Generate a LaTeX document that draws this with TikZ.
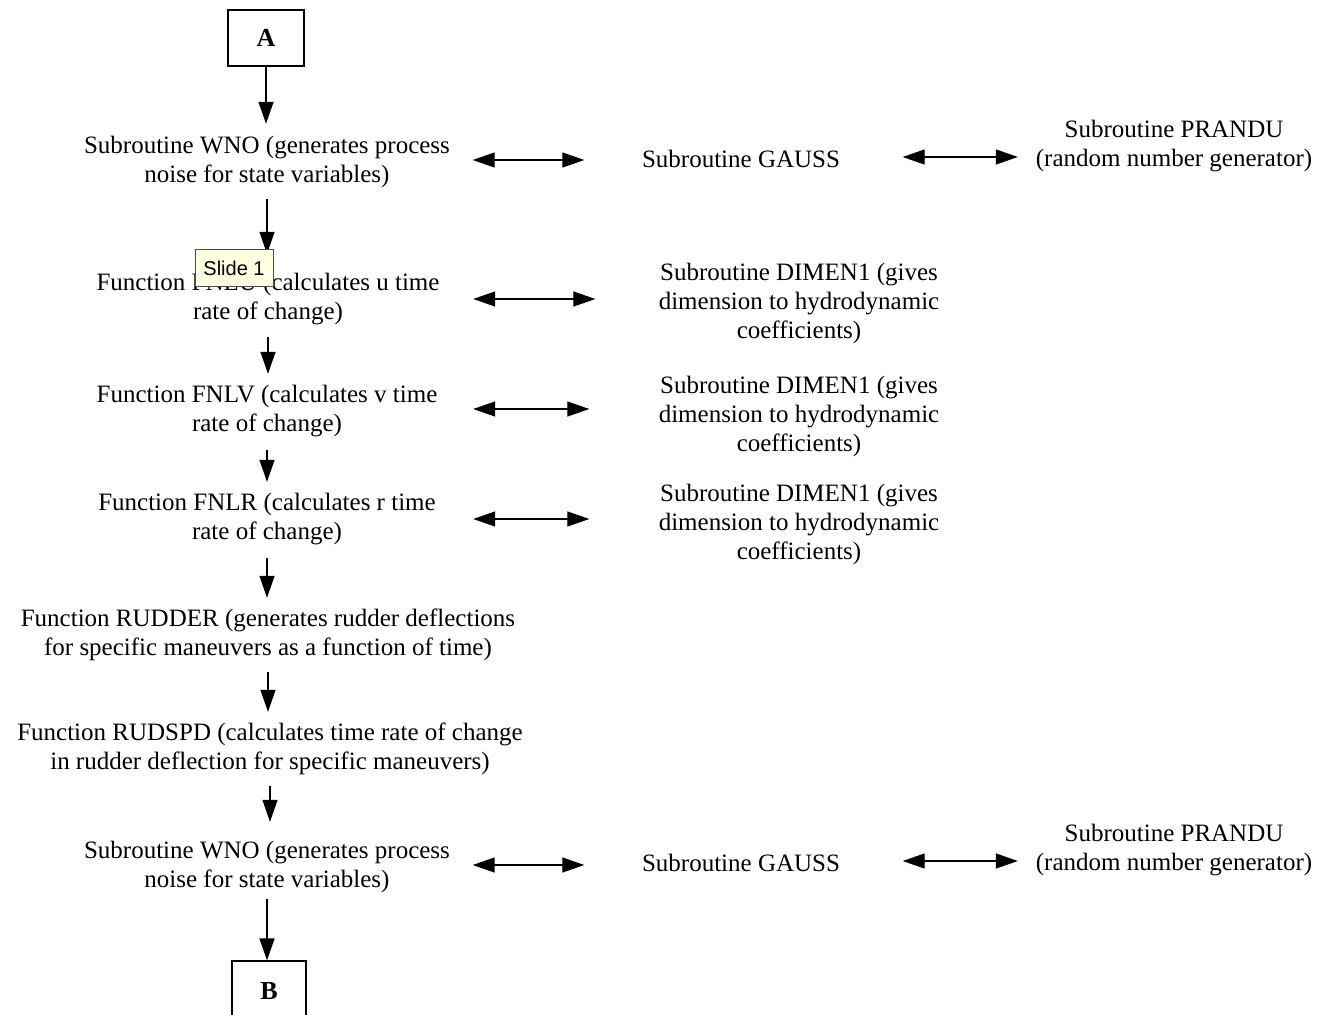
\documentclass[tikz,border=0pt]{standalone}
\usepackage{fontspec}
\setmainfont{Liberation Serif}
\newfontfamily\tipfont{Liberation Sans}
\usetikzlibrary{arrows.meta}
\definecolor{tipfill}{HTML}{FFFFE1}
\begin{document}
\begin{tikzpicture}[x=1pt,y=-1pt,
  txt/.style={font=\fontsize{25}{29}\selectfont, align=center, inner sep=0pt, minimum height=58pt},
  txtthree/.style={txt, minimum height=87pt},
  term/.style={draw, line width=1.2pt, font=\fontsize{26}{30}\selectfont\bfseries, inner sep=0pt},
  flow/.style={-{Triangle[length=22pt,width=15pt]}, line width=1.3pt},
  both/.style={{Triangle[length=22pt,width=15pt]}-{Triangle[length=22pt,width=15pt]}, line width=1.3pt},
  tipbox/.style={draw=black!70, fill=tipfill, line width=1pt, font=\tipfont\fontsize{20}{24}\selectfont, minimum width=78pt, minimum height=37pt, inner sep=0pt}]
\useasboundingbox (0,0) rectangle (1319,1014);

% terminals
\node[term, minimum width=76pt, minimum height=56pt] (A) at (266,38) {A};
\node[term, minimum width=74pt, minimum height=60pt] (B) at (269,991) {B};

% main column
\node[txt, minimum width=369pt] (wno1) at (267,162) {Subroutine WNO (generates process\\noise for state variables)};
\node[txt, minimum width=346pt] (fnlu) at (268,299) {Function FNLU (calculates u time\\rate of change)};
\node[txt, minimum width=344pt] (fnlv) at (267,411) {Function FNLV (calculates v time\\rate of change)};
\node[txt, minimum width=340pt] (fnlr) at (267,519) {Function FNLR (calculates r time\\rate of change)};
\node[txt, minimum width=500pt] (rudder) at (268,635) {Function RUDDER (generates rudder deflections\\for specific maneuvers as a function of time)};
\node[txt, minimum width=511pt] (rudspd) at (270,749) {Function RUDSPD (calculates time rate of change\\in rudder deflection for specific maneuvers)};
\node[txt, minimum width=369pt] (wno2) at (267,867) {Subroutine WNO (generates process\\noise for state variables)};

% side routines
\node[txt, minimum width=199pt, minimum height=30pt] (gauss1) at (741,159) {Subroutine GAUSS};
\node[txt, minimum width=278pt] (prandu1) at (1174,146) {Subroutine PRANDU\\(random number generator)};
\node[txtthree, minimum width=283pt] (dimen1) at (799,303) {Subroutine DIMEN1 (gives\\dimension to hydrodynamic\\coefficients)};
\node[txtthree, minimum width=283pt] (dimen2) at (799,416) {Subroutine DIMEN1 (gives\\dimension to hydrodynamic\\coefficients)};
\node[txtthree, minimum width=283pt] (dimen3) at (799,524) {Subroutine DIMEN1 (gives\\dimension to hydrodynamic\\coefficients)};
\node[txt, minimum width=199pt, minimum height=30pt] (gauss2) at (741,863) {Subroutine GAUSS};
\node[txt, minimum width=278pt] (prandu2) at (1174,850) {Subroutine PRANDU\\(random number generator)};

% downward flow (yshift is measured upwards on the canvas)
\draw[flow] (A.south) -- ([yshift=9pt]A.south |- wno1.north);
\draw[flow] ([yshift=-8pt]wno1.south) -- ([yshift=16pt]wno1.south |- fnlu.north);
\draw[flow] ([yshift=-9pt]fnlu.south) -- ([yshift=8pt]fnlu.south |- fnlv.north);
\draw[flow] ([yshift=-10pt]fnlv.south) -- ([yshift=8pt]fnlv.south |- fnlr.north);
\draw[flow] ([yshift=-10pt]fnlr.south) -- ([yshift=8pt]fnlr.south |- rudder.north);
\draw[flow] ([yshift=-8pt]rudder.south) -- ([yshift=8pt]rudder.south |- rudspd.north);
\draw[flow] ([yshift=-8pt]rudspd.south) -- ([yshift=16pt]rudspd.south |- wno2.north);
\draw[flow] ([yshift=-3pt]wno2.south) -- (wno2.south |- B.north);

% calls to side routines
\draw[both] ([xshift=21pt,yshift=2pt]wno1.east) -- ([xshift=-57pt,yshift=2pt]wno1.east -| gauss1.west);
\draw[both] ([xshift=62pt,yshift=2pt]gauss1.east) -- ([xshift=-17pt,yshift=2pt]gauss1.east -| prandu1.west);
\draw[both] ([xshift=32pt]fnlu.east) -- ([xshift=-62pt]fnlu.east -| dimen1.west);
\draw[both] ([xshift=34pt,yshift=2pt]fnlv.east) -- ([xshift=-68pt,yshift=2pt]fnlv.east -| dimen2.west);
\draw[both] ([xshift=36pt]fnlr.east) -- ([xshift=-68pt]fnlr.east -| dimen3.west);
\draw[both] ([xshift=21pt,yshift=2pt]wno2.east) -- ([xshift=-57pt,yshift=2pt]wno2.east -| gauss2.west);
\draw[both] ([xshift=62pt,yshift=2pt]gauss2.east) -- ([xshift=-17pt,yshift=2pt]gauss2.east -| prandu2.west);

% tooltip
\node[tipbox] (note) at (234,268) {Slide 1};
\end{tikzpicture}
\end{document}
